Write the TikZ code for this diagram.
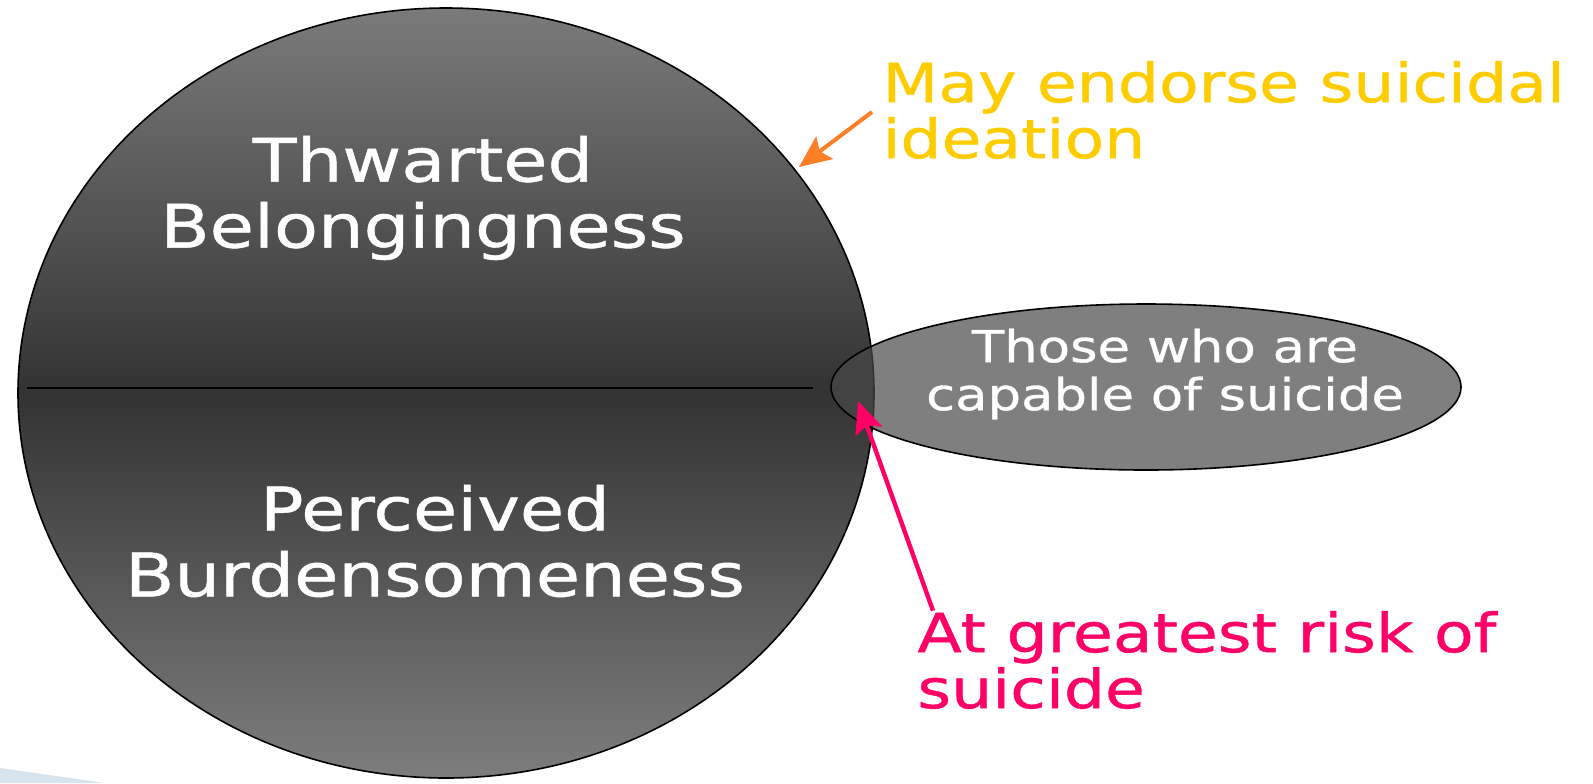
\documentclass[tikz,border=0pt]{standalone}
\usepackage{fontspec}
\setmainfont{DejaVu Sans}[FakeStretch=1.2,FakeBold=0.8]
\usetikzlibrary{arrows.meta}

\definecolor{ideayellow}{RGB}{255,204,0}
\definecolor{ideaorange}{RGB}{255,127,39}
\definecolor{riskpink}{RGB}{255,0,102}
\definecolor{capgray}{RGB}{73,73,73}
\definecolor{slideblue}{RGB}{214,228,239}

\begin{document}
\begin{tikzpicture}[x=0.5pt,y=-0.5pt,>={Stealth[length=16pt,width=14pt,inset=3pt]},
  inside/.style={inner sep=0pt,align=center,text=white},
  note/.style={inner sep=0pt,align=left,anchor=west}]
\useasboundingbox (0,0) rectangle (1593,783);
\fill[slideblue] (0,768)--(105,783)--(0,783)--cycle;
\coordinate (big) at (446,393);
\coordinate (cap) at (1146,387);
% the two drives, split by one line
\shade[top color=black!52,bottom color=black!51,middle color=black!80] (big) ellipse (428 and 385);
\draw[line width=0.8pt] (big) ellipse (428 and 385);
\draw[line width=0.8pt] (27,388)--(813,388);
% capability sits over the edge
\draw[line width=0.8pt,fill=capgray,fill opacity=0.7] (cap) ellipse (315 and 83);
\node[inside,font=\fontsize{30}{33}\selectfont] (thwarted) at (423,198) {Thwarted\\Belongingness};
\node[inside,font=\fontsize{30}{33}\selectfont] (burden) at (435,541) {Perceived\\Burdensomeness};
\node[inside,font=\fontsize{22}{24}\selectfont] (capable) at (1165,374) {Those who are\\capable of suicide};
\node[note,text=ideayellow,font=\fontsize{27}{28}\selectfont] (endorse) at (882,110) {May endorse suicidal\\ideation};
\node[note,text=riskpink,font=\fontsize{27}{28}\selectfont] (risk) at (917,660) {At greatest risk of\\suicide};
\coordinate (endorse tip) at (799,167);
\coordinate (risk tip) at (858,401);
\draw[->,ideaorange,line width=2pt] ([xshift=-5pt,yshift=-1pt]endorse.west)--(endorse tip);
\draw[->,riskpink,line width=2.2pt] ([xshift=8pt]risk.north west)--(risk tip);
\end{tikzpicture}
\end{document}
